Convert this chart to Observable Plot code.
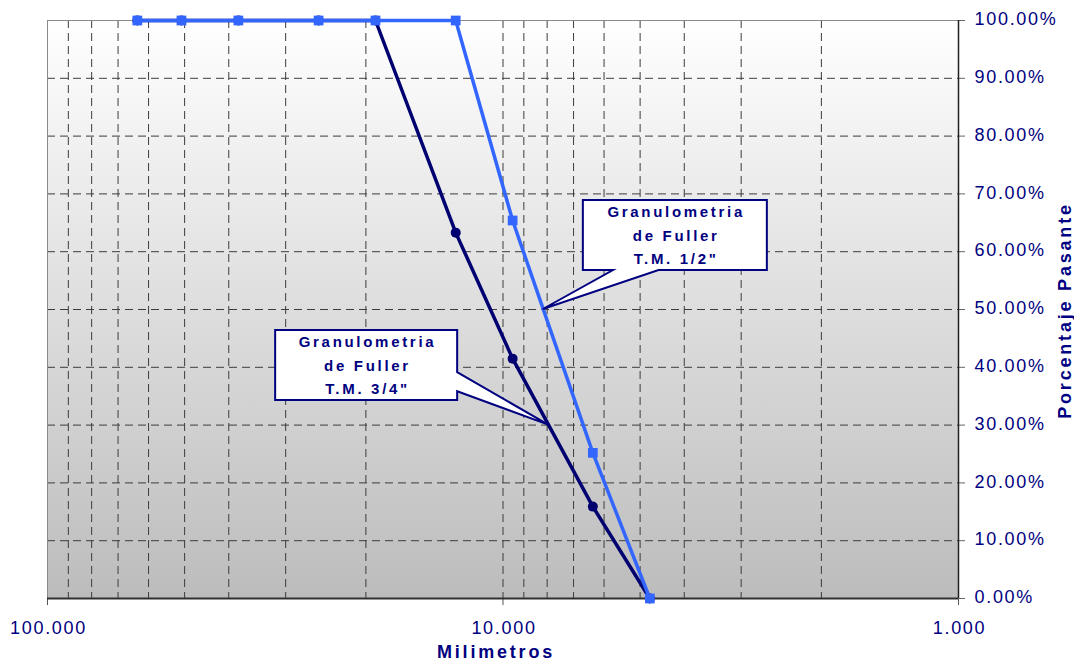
<!DOCTYPE html>
<html>
<head>
<meta charset="utf-8">
<script src="https://cdn.jsdelivr.net/npm/d3@7"></script>
<script src="https://cdn.jsdelivr.net/npm/@observablehq/plot@0.6"></script>
<style>
  html, body { margin: 0; padding: 0; background: #ffffff; }
  #chart svg { display: block; }
</style>
</head>
<body>
<div id="chart"></div>
<script>
// Sieve openings (mm) and cumulative percent passing for the two Fuller curves
const sieveMm   = [63.5, 50.8, 38.1, 25.4, 19.05, 12.7, 9.525, 6.35, 4.76];
const passing34 = [100, 100, 100, 100, 100, 63.3, 41.5, 15.9, 0];
const passing12 = [100, 100, 100, 100, 100, 100, 65.4, 25.2, 0];

// Axis ticks
const xMajorTicks = [100, 10, 1];
const xGridTicks  = [90, 80, 70, 60, 50, 40, 30, 20, 10, 9, 8, 7, 6, 5, 4, 3, 2];
const yTicks      = [0, 10, 20, 30, 40, 50, 60, 70, 80, 90, 100];
const yGridTicks  = [10, 20, 30, 40, 50, 60, 70, 80, 90];

// Callout labels: text lines, the curve they point at and the percent level of the tip
const calloutText   = [["Granulometria", "de Fuller", 'T.M. 3/4"'], ["Granulometria", "de Fuller", 'T.M. 1/2"']];
const calloutSeries = [passing34, passing12];
const calloutLevel  = [30, 50];

const navy = "#000080";
const darkLine = "#000070";
const blueLine = "#3366ff";

const rows34 = sieveMm.map((s, i) => ({size: s, pass: passing34[i]}));
const rows12 = sieveMm.map((s, i) => ({size: s, pass: passing12[i]}));

// Size (mm) where a curve crosses a given percent, interpolated in log space
function sizeAt(sizes, pass, p) {
  for (let i = 0; i < sizes.length - 1; i++) {
    const a = pass[i], b = pass[i + 1];
    if (a !== b && a >= p && p >= b) {
      const t = (a - p) / (a - b);
      return Math.exp(Math.log(sizes[i]) + t * (Math.log(sizes[i + 1]) - Math.log(sizes[i])));
    }
  }
  return sizes[0];
}

// Plot-area background: white fading to grey
function background(index, scales, values, dimensions) {
  const {width, height, marginLeft, marginRight, marginTop, marginBottom} = dimensions;
  const g = d3.create("svg:g");
  const grad = g.append("defs").append("linearGradient")
    .attr("id", "plot-bg").attr("x1", 0).attr("y1", 0).attr("x2", 0).attr("y2", 1);
  grad.append("stop").attr("offset", "0%").attr("stop-color", "#ffffff");
  grad.append("stop").attr("offset", "100%").attr("stop-color", "#bcbcbc");
  g.append("rect")
    .attr("x", marginLeft).attr("y", marginTop)
    .attr("width", width - marginLeft - marginRight)
    .attr("height", height - marginTop - marginBottom)
    .attr("fill", "url(#plot-bg)");
  return g.node();
}

// Box geometry of each callout, relative to its pointer tip (px)
const calloutLayout = [
  {left: -273, right: -91, top: -94.5, bottom: -24.5, side: "right", base: [-52.4, -33.4]},
  {left: 40, right: 224, top: -109, bottom: -39, side: "bottom", base: [115.7, 70.1]}
];

function callouts(index, scales) {
  const g = d3.create("svg:g");
  calloutText.forEach((lines, k) => {
    const L = calloutLayout[k];
    const tx = scales.x(sizeAt(sieveMm, calloutSeries[k], calloutLevel[k]));
    const ty = scales.y(calloutLevel[k]);
    const x0 = tx + L.left, x1 = tx + L.right, y0 = ty + L.top, y1 = ty + L.bottom;
    const d = L.side === "right"
      ? `M${x0},${y0}H${x1}V${ty + L.base[0]}L${tx},${ty}L${x1},${ty + L.base[1]}V${y1}H${x0}Z`
      : `M${x0},${y0}H${x1}V${y1}H${tx + L.base[0]}L${tx},${ty}L${tx + L.base[1]},${y1}H${x0}Z`;
    g.append("path").attr("d", d)
      .attr("fill", "#ffffff").attr("stroke", navy).attr("stroke-width", 2);
    const cx = (x0 + x1) / 2 + 1.35;
    lines.forEach((t, i) => {
      g.append("text")
        .attr("x", cx).attr("y", y0 + 17 + i * 23.5)
        .attr("text-anchor", "middle")
        .attr("font-size", 15).attr("font-weight", "bold")
        .attr("letter-spacing", 2.7)
        .attr("fill", navy)
        .text(t);
    });
  });
  return g.node();
}

const chart = Plot.plot({
  width: 1074,
  height: 663,
  marginLeft: 47,
  marginRight: 116,
  marginTop: 20,
  marginBottom: 65,
  x: {type: "log", domain: [100, 1], axis: null},
  y: {domain: [0, 100], axis: null},
  style: {fontFamily: "'Liberation Sans', Arial, sans-serif", background: "#ffffff", overflow: "visible"},
  marks: [
    background,
    // dashed grid
    Plot.ruleX(xGridTicks, {stroke: "#3c3c3c", strokeWidth: 1, strokeDasharray: "8,5"}),
    Plot.ruleY(yGridTicks, {stroke: "#3c3c3c", strokeWidth: 1, strokeDasharray: "8,5"}),
    // frame edges and axis lines
    Plot.ruleY([100], {stroke: "#8a8a8a", strokeWidth: 1}),
    Plot.ruleX([100], {stroke: "#8a8a8a", strokeWidth: 1}),
    Plot.ruleX(xMajorTicks, {y1: () => 0, y2: () => 0, insetBottom: -7, stroke: "#555555", strokeWidth: 1}),
    Plot.ruleY(yTicks, {x1: () => 1, x2: () => 1, insetRight: -7, stroke: "#666666", strokeWidth: 1}),
    Plot.ruleY([0], {stroke: "#303030", strokeWidth: 2}),
    Plot.ruleX([1], {stroke: "#202020", strokeWidth: 1.5}),
    // curves
    Plot.line(rows34, {x: "size", y: "pass", stroke: darkLine, strokeWidth: 3.5}),
    Plot.dot(rows34, {x: "size", y: "pass", r: 5, fill: darkLine, stroke: null}),
    Plot.line(rows12, {x: "size", y: "pass", stroke: blueLine, strokeWidth: 3.5}),
    Plot.dot(rows12, {x: "size", y: "pass", symbol: "square", r: 5.5, fill: blueLine, stroke: null}),
    // tick labels
    Plot.text(yTicks, {x: () => 1, y: d => d, text: d => d.toFixed(2) + "%", textAnchor: "start",
      lineAnchor: "middle", dx: 16, dy: -1, fontSize: 18, fill: navy}),
    Plot.text(xMajorTicks, {x: d => d, y: () => 0, text: d => d.toFixed(3), textAnchor: "middle",
      lineAnchor: "middle", dx: 1, dy: 30, fontSize: 18, fill: navy}),
    // axis titles
    Plot.text(["Milimetros"], {text: d => d, frameAnchor: "bottom", textAnchor: "middle", lineAnchor: "middle",
      dx: -7, dy: 54, fontSize: 18, fontWeight: "bold", fill: navy}),
    Plot.text(["Porcentaje Pasante"], {text: d => d, frameAnchor: "right", rotate: -90,
      textAnchor: "middle", lineAnchor: "middle", dx: 107, dy: 1,
      fontSize: 18, fontWeight: "bold", fill: navy}),
    callouts
  ]
});

// letter spacing for the axis texts
chart.querySelectorAll("text").forEach(t => {
  if (!t.hasAttribute("letter-spacing")) {
    const w = t.closest("[font-weight]");
    const bold = w && w.getAttribute("font-weight") === "bold";
    t.setAttribute("letter-spacing", bold ? 2.8 : 1.7);
  }
});

document.getElementById("chart").appendChild(chart);
</script>
</body>
</html>
